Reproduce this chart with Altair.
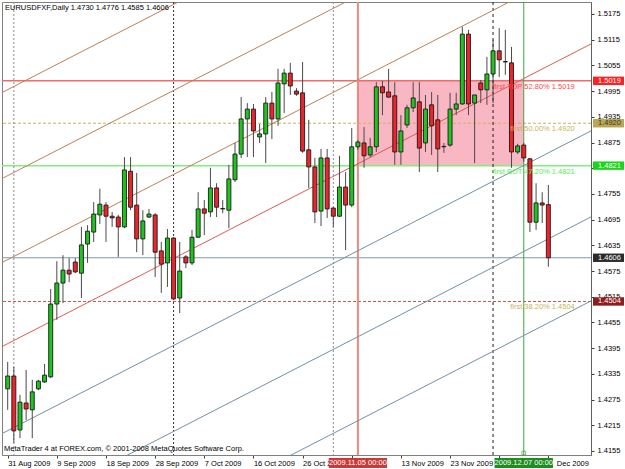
import altair as alt
import pandas as pd

# ---------------- data ----------------
title_text = "EURUSDFXF,Daily  1.4730 1.4776 1.4585 1.4606"
footer_text = "MetaTrader 4 at FOREX.com, \u00a9 2001-2008 MetaQuotes Software Corp."

opens = [
    1.4300, 1.4330, 1.4204, 1.4267, 1.4251, 1.4300, 1.4316, 1.4328, 1.4498, 1.4547,
    1.4577, 1.4596, 1.4570, 1.4638, 1.4666, 1.4706, 1.4729, 1.4703, 1.4701, 1.4678,
    1.4808, 1.4729, 1.4650, 1.4701, 1.4706, 1.4622, 1.4594, 1.4652, 1.4512, 1.4608,
    1.4594, 1.4654, 1.4720, 1.4713, 1.4769, 1.4720, 1.4717, 1.4788, 1.4848, 1.4930,
    1.4953, 1.4888, 1.4895, 1.4967, 1.4930, 1.5012, 1.5037, 1.4995, 1.4991, 1.4858,
    1.4818, 1.4715, 1.4839, 1.4722, 1.4703, 1.4771, 1.4729, 1.4865, 1.4874, 1.4846,
    1.4865, 1.5005, 1.4993, 1.4984, 1.4853, 1.4916, 1.4956, 1.4970, 1.4874, 1.4963,
    1.4928, 1.4865, 1.4869, 1.4953, 1.4965, 1.5128, 1.4967, 1.5014, 1.4998, 1.5035,
    1.5089, 1.5063, 1.5061, 1.4853, 1.4869, 1.4837, 1.4689, 1.4734, 1.4730]
highs = [
    1.4363, 1.4351, 1.4286, 1.4344, 1.4321, 1.4321, 1.4358, 1.4533, 1.4598, 1.4612,
    1.4605, 1.4605, 1.4678, 1.4682, 1.4736, 1.4767, 1.4736, 1.4713, 1.4706, 1.4841,
    1.4841, 1.4804, 1.4717, 1.4720, 1.4710, 1.4643, 1.4673, 1.4654, 1.4643, 1.4612,
    1.4671, 1.4759, 1.4741, 1.4816, 1.4780, 1.4741, 1.4823, 1.4874, 1.4981, 1.4967,
    1.4965, 1.4918, 1.4981, 1.4993, 1.5047, 1.5047, 1.5061, 1.5002, 1.5063, 1.4928,
    1.4839, 1.4860, 1.4860, 1.4724, 1.4844, 1.4806, 1.4909, 1.4881, 1.4911, 1.4886,
    1.5016, 1.5019, 1.5047, 1.5016, 1.4939, 1.4963, 1.5016, 1.5016, 1.4986, 1.4993,
    1.4986, 1.4874, 1.4991, 1.4991, 1.5145, 1.5138, 1.4986, 1.5021, 1.5075, 1.5114,
    1.5142, 1.5138, 1.5098, 1.4872, 1.4874, 1.4839, 1.4780, 1.4759, 1.4776]
lows = [
    1.4251, 1.4174, 1.4185, 1.4227, 1.4185, 1.4297, 1.4314, 1.4325, 1.4461, 1.4500,
    1.4549, 1.4570, 1.4512, 1.4594, 1.4643, 1.4685, 1.4643, 1.4678, 1.4608, 1.4675,
    1.4717, 1.4619, 1.4612, 1.4699, 1.4561, 1.4524, 1.4538, 1.4507, 1.4477, 1.4582,
    1.4589, 1.4652, 1.4659, 1.4701, 1.4701, 1.4710, 1.4675, 1.4783, 1.4839, 1.4841,
    1.4841, 1.4874, 1.4827, 1.4883, 1.4914, 1.4944, 1.4986, 1.4984, 1.4851, 1.4769,
    1.4687, 1.4680, 1.4699, 1.4678, 1.4701, 1.4624, 1.4724, 1.4858, 1.4816, 1.4841,
    1.4853, 1.4939, 1.4979, 1.4823, 1.4823, 1.4909, 1.4946, 1.4806, 1.4853, 1.4846,
    1.4806, 1.4851, 1.4865, 1.4939, 1.4963, 1.4939, 1.4827, 1.4967, 1.4963, 1.4967,
    1.5028, 1.5033, 1.4816, 1.4848, 1.4830, 1.4666, 1.4671, 1.4687, 1.4585]
closes = [
    1.4330, 1.4202, 1.4269, 1.4253, 1.4293, 1.4318, 1.4332, 1.4498, 1.4547, 1.4577,
    1.4568, 1.4573, 1.4636, 1.4668, 1.4708, 1.4731, 1.4703, 1.4699, 1.4678, 1.4811,
    1.4724, 1.4650, 1.4692, 1.4708, 1.4619, 1.4591, 1.4652, 1.4510, 1.4575, 1.4594,
    1.4654, 1.4720, 1.4710, 1.4769, 1.4724, 1.4721, 1.4790, 1.4848, 1.4930, 1.4953,
    1.4902, 1.4895, 1.4967, 1.4930, 1.5014, 1.5037, 1.5007, 1.4988, 1.4855, 1.4818,
    1.4713, 1.4839, 1.4720, 1.4703, 1.4771, 1.4729, 1.4865, 1.4876, 1.4844, 1.4865,
    1.5005, 1.4991, 1.4981, 1.4853, 1.4902, 1.4956, 1.4979, 1.4862, 1.4953, 1.4914,
    1.4860, 1.4866, 1.4953, 1.4965, 1.5128, 1.4965, 1.4986, 1.4998, 1.5035, 1.5089,
    1.5068, 1.5064, 1.4853, 1.4867, 1.4839, 1.4689, 1.4734, 1.4729, 1.4606]

# time-axis labels (the ones under the two date boxes are covered in the original)
tick_bars = [0, 8, 16, 24, 32, 40, 48, 56, 64, 72, 80, 88]
tick_labels = ["31 Aug 2009", "9 Sep 2009", "18 Sep 2009", "28 Sep 2009", "7 Oct 2009",
               "16 Oct 2009", "26 Oct 2009", "", "13 Nov 2009", "23 Nov 2009",
               "", "Dec 2009"]
y_ticks = [1.4155, 1.4215, 1.4275, 1.4335, 1.4395, 1.4455, 1.4515, 1.4575, 1.4635,
           1.4695, 1.4755, 1.4815, 1.4875, 1.4935, 1.4995, 1.5055, 1.5115, 1.5175]
y_hidden_tick = 1.4815

# horizontal levels
level_prices = [1.5019, 1.4920, 1.4821, 1.4606, 1.4504]
level_colors = ["#F26B6B", "#C9B463", "#7FEF7F", "#7E98AA", "#C0584A"]
level_dashes = [[1, 0], [3, 2], [1, 0], [1, 0], [3, 2]]
level_widths = [1.5, 1, 1.5, 1, 1]
level_box_fill = ["#FF2020", "#B9A656", "#19D619", "#2B2B2B", "#8E1C1C"]
level_box_text = ["#FFFFFF", "#3A3A10", "#FFFFFF", "#FFFFFF", "#FFFFFF"]

# fibo texts
fibo_texts = ["first TOP 52.80%  1.5019", "first 50.00%  1.4920",
              "first BOT 47.20%  1.4821", "first 38.20%  1.4504"]
fibo_prices = [1.5019, 1.4920, 1.4821, 1.4504]
fibo_colors = ["#FF4A4A", "#C8B45A", "#55EE55", "#C8B45A"]

# vertical markers (bar index)
vline_bars = [1, 27, 53, 57, 79, 84]
vline_colors = ["#8C8C8C", "#303030", "#8C8C8C", "#E88A80", "#202020", "#3CA83C"]
vline_dashes = [[2, 2], [2, 2], [2, 2], [1, 0], [3, 3], [1, 0]]
vline_widths = [1, 1, 1, 2, 1, 1]

# zone rectangle
zone_bars = [57, 84]
zone_prices = [1.4821, 1.5019]

# date boxes on the time axis
date_box_bars = [57, 84]
date_box_text = ["2009.11.05 00:00", "2009.12.07 00:00"]
date_box_fill = ["#C93A3A", "#1E8C1E"]

# parallel channel lines: price at bar -1 and bar 95
channel_names = ["B1", "B2", "B3", "M", "G1", "G2", "G3"]
channel_start = [1.49910, 1.47903, 1.45942, 1.43981, 1.41950, 1.39943, 1.37982]
channel_end = [1.56984, 1.54976, 1.53016, 1.51055, 1.49024, 1.47017, 1.45056]
channel_colors = ["#BC7F57", "#BC7F57", "#BC7F57", "#DE5A55", "#7390A2", "#7390A2", "#7390A2"]

# ---------------- chart ----------------
FONT = "Liberation Sans"
FS = 7.5

xs = alt.Scale(domain=[-0.112, 94.128], nice=False, zero=False)
ys = alt.Scale(domain=[1.41456, 1.52030], nice=False, zero=False)

label_js = "[" + ",".join("'%s'" % s for s in tick_labels) + "][round(datum.value/8)]"

x_axis = alt.Axis(values=tick_bars, labelExpr=label_js, orient="bottom", labelAlign="left",
                  labelBaseline="top", labelPadding=1, tickSize=3, tickColor="#404040",
                  domainColor="#808080", grid=False, title=None, labelFontSize=FS, labelFont=FONT,
                  labelColor="#000000", labelOverlap=False, labelFlush=False, labelBound=False,
                  labelOffset={"condition": {"test": "datum.value == 88", "value": 8}, "value": 0})
y_axis = alt.Axis(values=y_ticks, orient="right", labelPadding=3, tickSize=3,
                  labelExpr="abs(datum.value - %s) < 0.00001 ? '' : format(datum.value, '.4f')" % y_hidden_tick,
                  tickColor="#404040", domainColor="#606060", grid=False, title=None,
                  labelFontSize=FS, labelFont=FONT, labelColor="#000000", labelOverlap=False,
                  labelFlush=False, labelBound=False, labelBaseline="middle")


def X(f):
    return alt.X(f, scale=xs, axis=x_axis)


def Y(f):
    return alt.Y(f, scale=ys, axis=y_axis)


candles = pd.DataFrame({"bar": list(range(len(opens))), "open": opens, "high": highs,
                        "low": lows, "close": closes})

zone_df = pd.DataFrame({"b0": [zone_bars[0]], "b1": [zone_bars[1]],
                        "p0": [zone_prices[0]], "p1": [zone_prices[1]]})
zone = alt.Chart(zone_df).mark_rect(color="#F9B7C3").encode(
    x=X("b0:Q"), x2="b1:Q", y=Y("p0:Q"), y2="p1:Q")

layers = [zone]

for p, c, d, w in zip(level_prices, level_colors, level_dashes, level_widths):
    layers.append(alt.Chart(pd.DataFrame({"price": [p]})).mark_rule(
        color=c, strokeDash=d, strokeWidth=w).encode(y=Y("price:Q")))

for b, c, d, w in zip(vline_bars, vline_colors, vline_dashes, vline_widths):
    layers.append(alt.Chart(pd.DataFrame({"bar": [b]})).mark_rule(
        color=c, strokeDash=d, strokeWidth=w).encode(x=X("bar:Q")))

rows = []
for n, s, e, c in zip(channel_names, channel_start, channel_end, channel_colors):
    rows.append({"name": n, "bar": -1, "price": s, "col": c})
    rows.append({"name": n, "bar": 95, "price": e, "col": c})
chan_df = pd.DataFrame(rows)
layers.append(alt.Chart(chan_df).mark_line(clip=True, strokeWidth=1).encode(
    x=X("bar:Q"), y=Y("price:Q"),
    detail="name:N", color=alt.Color("col:N", scale=None)))

wicks = alt.Chart(candles).mark_rule(color="#4A4A4A", strokeWidth=1).encode(
    x=X("bar:Q"), y=Y("low:Q"), y2="high:Q")
bodies = alt.Chart(candles).mark_bar(size=4, stroke="#1A1A1A", strokeWidth=0.9).encode(
    x=X("bar:Q"), y=Y("open:Q"), y2="close:Q",
    color=alt.condition("datum.close >= datum.open", alt.value("#1FC41F"), alt.value("#F0222A")))
layers += [wicks, bodies]

fibo_df = pd.DataFrame({"txt": fibo_texts, "price": fibo_prices, "col": fibo_colors})
layers.append(alt.Chart(fibo_df).mark_text(align="right", baseline="top", dy=2,
                                           font=FONT, fontSize=FS).encode(
    x=alt.datum(92.3), y=Y("price:Q"), text="txt:N",
    color=alt.Color("col:N", scale=None)))

box_df = pd.DataFrame({"price": level_prices, "fill": level_box_fill, "tcol": level_box_text})
box_df["lab"] = box_df["price"].map(lambda v: "%.4f" % v)
layers.append(alt.Chart(box_df).mark_rect().transform_calculate(
    lo="datum.price - 0.00098", hi="datum.price + 0.00098").encode(
    x=alt.value(591), x2=alt.value(622),
    y=Y("lo:Q"), y2="hi:Q", color=alt.Color("fill:N", scale=None)))
layers.append(alt.Chart(box_df).mark_text(align="left", baseline="middle", font=FONT,
                                          fontSize=FS).encode(
    x=alt.value(596), y=Y("price:Q"), text="lab:N",
    color=alt.Color("tcol:N", scale=None)))

date_df = pd.DataFrame({"bar": date_box_bars, "txt": date_box_text, "fill": date_box_fill})
layers.append(alt.Chart(date_df).mark_rect().transform_calculate(
    x0="datum.bar - 4.75", x1="datum.bar + 4.75").encode(
    x=X("x0:Q"), x2="x1:Q",
    y=alt.value(456), y2=alt.value(466), color=alt.Color("fill:N", scale=None)))
layers.append(alt.Chart(date_df).mark_text(align="center", baseline="middle", font=FONT,
                                           fontSize=FS, color="#FFFFFF").encode(
    x=X("bar:Q"), y=alt.value(461), text="txt:N"))

marker_df = pd.DataFrame({"bar": [vline_bars[5]]})
layers.append(alt.Chart(marker_df).mark_point(shape="square", size=14, filled=False,
                                              color="#3CA83C", strokeWidth=1).encode(
    x=X("bar:Q"), y=alt.value(451)))

layers.append(alt.Chart(pd.DataFrame({"t": [title_text]})).mark_text(
    align="left", baseline="middle", font=FONT, fontSize=FS, color="#000000").encode(
    x=alt.value(3), y=alt.value(6), text="t:N"))
layers.append(alt.Chart(pd.DataFrame({"t": [footer_text]})).mark_text(
    align="left", baseline="middle", font=FONT, fontSize=FS, color="#000000").encode(
    x=alt.value(2), y=alt.value(447), text="t:N"))

chart = alt.layer(*layers).properties(
    width=589, height=453,
    padding={"left": 2, "top": 2, "right": 34, "bottom": 14},
    autosize=alt.AutoSizeParams(type="none"),
    background="#FFFFFF",
).configure_view(stroke="#808080", strokeWidth=1)

chart.save("out.html", embed_options={"renderer": "svg", "actions": False})
